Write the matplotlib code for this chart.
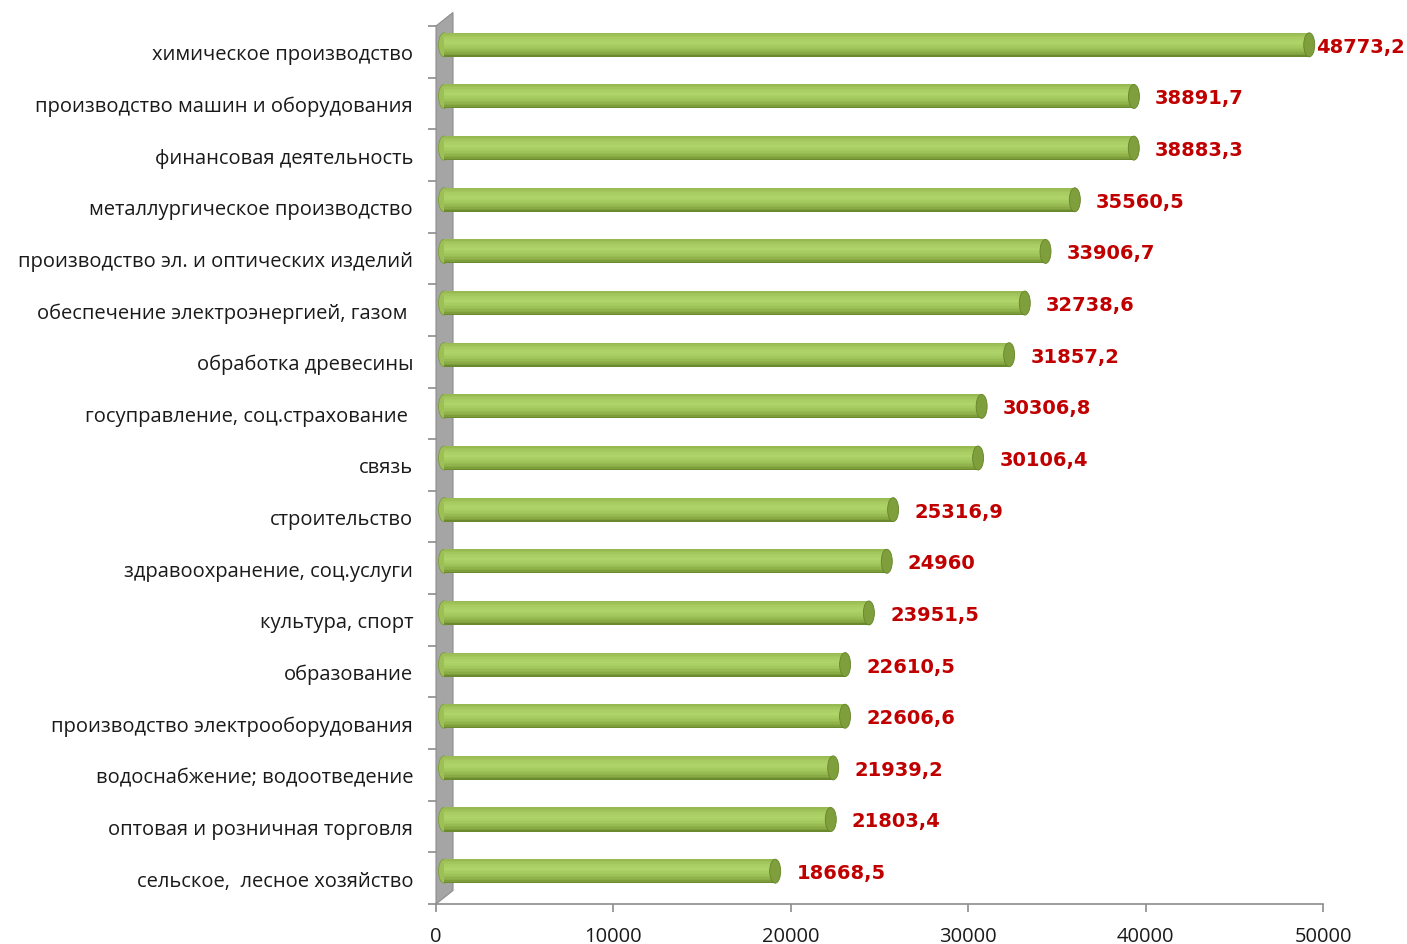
import matplotlib.pyplot as plt
import matplotlib.transforms as mtransforms
from matplotlib.colors import to_rgb
from matplotlib.patches import Ellipse, Polygon
import numpy as np

categories = [
    "химическое производство",
    "производство машин и оборудования",
    "финансовая деятельность",
    "металлургическое производство",
    "производство эл. и оптических изделий",
    "обеспечение электроэнергией, газом ",
    "обработка древесины",
    "госуправление, соц.страхование ",
    "связь",
    "строительство",
    "здравоохранение, соц.услуги",
    "культура, спорт",
    "образование",
    "производство электрооборудования",
    "водоснабжение; водоотведение",
    "оптовая и розничная торговля",
    "сельское,  лесное хозяйство",
]
values = [48773.2, 38891.7, 38883.3, 35560.5, 33906.7, 32738.6, 31857.2,
          30306.8, 30106.4, 25316.9, 24960, 23951.5, 22610.5, 22606.6,
          21939.2, 21803.4, 18668.5]
value_labels = ["48773,2", "38891,7", "38883,3", "35560,5", "33906,7",
                "32738,6", "31857,2", "30306,8", "30106,4", "25316,9",
                "24960", "23951,5", "22610,5", "22606,6", "21939,2",
                "21803,4", "18668,5"]
xticks = [0, 10000, 20000, 30000, 40000, 50000]

W, H = 1407, 945
fig = plt.figure(figsize=(W / 100, H / 100), dpi=100)
ax_l, ax_r, ax_t, ax_b = 436, 1323, 27, 905
ax = fig.add_axes([ax_l / W, 1 - ax_b / H, (ax_r - ax_l) / W, (ax_b - ax_t) / H])

n = len(categories)
ypos = np.arange(n)[::-1]
ax.set_xlim(0, 50000)
ax.set_ylim(-0.5, n - 0.5)

# data units per pixel
ux = 50000 / (ax_r - ax_l)
uy = n / (ax_b - ax_t)

# grey side wall
depth_x, depth_y = 17 * ux, 13.5 * uy
wall = Polygon([(0, -0.5), (0, n - 0.5), (depth_x, n - 0.5 + depth_y), (depth_x, -0.5 + depth_y)],
               closed=True, facecolor="#a5a5a5", edgecolor="#8c8c8c", lw=0.8, zorder=1,
               clip_on=False)
ax.add_patch(wall)

# bars drawn as shaded cylinders, shifted to the middle of the depth
shift = mtransforms.ScaledTranslation(8 / 100, 7 / 100, fig.dpi_scale_trans)
tr = ax.transData + shift
bh = 24 * uy
stops = [(0.0, "#62802a"), (0.12, "#84a640"), (0.35, "#9fc459"), (0.6, "#afd46a"),
         (0.82, "#a6ca60"), (1.0, "#93b64e")]


def shade(t):
    for (t0, c0), (t1, c1) in zip(stops[:-1], stops[1:]):
        if t0 <= t <= t1:
            a, b = np.array(to_rgb(c0)), np.array(to_rgb(c1))
            return a + (b - a) * (t - t0) / (t1 - t0)
    return to_rgb(stops[-1][1])


nstrip = 16
cap_w = 11 * ux
for y, v in zip(ypos, values):
    ax.add_patch(Ellipse((0, y), cap_w, bh, facecolor="#9cc055", edgecolor="#7d9c3c",
                         lw=0.6, transform=tr, zorder=2, clip_on=False))
    for k in range(nstrip):
        t = (k + 0.5) / nstrip
        ax.barh(y - bh / 2 + k * bh / nstrip, v, height=bh / nstrip * 1.05, left=0,
                align="edge", color=shade(t), lw=0, transform=tr, zorder=3)
    ax.add_patch(Ellipse((v, y), cap_w, bh, facecolor="#7f9f3c", edgecolor="#66842a",
                         lw=0.6, transform=tr, zorder=4))

labels = []
for y, v, s in zip(ypos, values, value_labels):
    labels.append(ax.annotate(s, (v, y), xytext=(21, 4), textcoords="offset points",
                              ha="left", va="center", color="#c00000", fontsize=14,
                              fontweight="bold", family="DejaVu Sans", zorder=5))

# axes styling
for side in ["top", "right", "left"]:
    ax.spines[side].set_visible(False)
ax.spines["bottom"].set_color("#8c8c8c")
ax.spines["bottom"].set_linewidth(1.2)
ax.set_xticks(xticks)
ax.set_xticklabels([str(t) for t in xticks], fontsize=14.5, family="Open Sans", color="#1a1a1a")
ax.tick_params(axis="x", length=6, color="#8c8c8c", width=1.2, pad=10)
ax.set_yticks(ypos)
ax.set_yticklabels(categories, fontsize=14.5, family="Open Sans", color="#1a1a1a")
ax.tick_params(axis="y", length=0, pad=16.5)
ax.set_yticks(np.arange(-0.5, n), minor=True)
ax.tick_params(axis="y", which="minor", length=6, color="#8c8c8c", width=1.2)

# keep value labels inside the figure, like Excel does
fig.canvas.draw()
r = fig.canvas.get_renderer()
for t in labels:
    over = t.get_window_extent(r).x1 - (W - 2)
    if over > 0:
        ox, oy = t.xyann
        t.xyann = (ox - over * 72 / 100, oy)

fig.savefig("out.png", dpi=100)
